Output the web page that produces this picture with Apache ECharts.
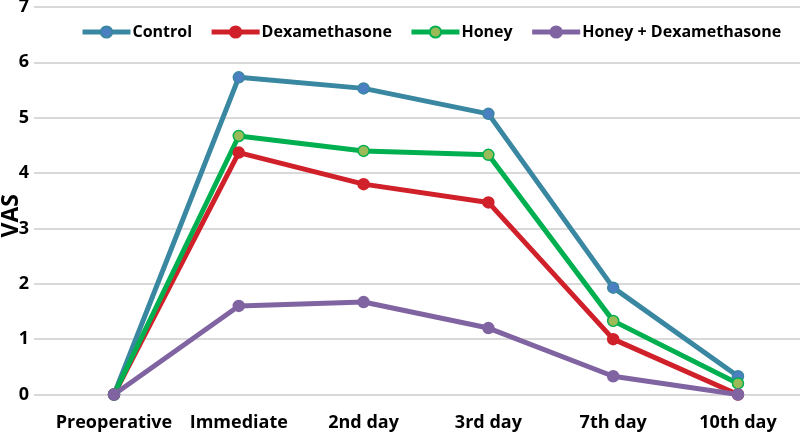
<!DOCTYPE html>
<html><head><meta charset="utf-8">
<script src="https://cdn.jsdelivr.net/npm/echarts@6/dist/echarts.min.js"></script>
<style>html,body{margin:0;padding:0;background:#fff}#c{width:800px;height:434px}</style>
</head><body><div id="c"></div>
<script>
const categories = ['Preoperative','Immediate','2nd day','3rd day','7th day','10th day'];
const control = [0, 5.73, 5.53, 5.07, 1.93, 0.33];
const dexamethasone = [0, 4.37, 3.80, 3.47, 1.00, 0];
const honey = [0, 4.67, 4.40, 4.33, 1.33, 0.20];
const honeyDexa = [0, 1.60, 1.67, 1.20, 0.33, 0];
const yTicks = [0,1,2,3,4,5,6,7];

const FONT = '"Open Sans", "Noto Sans", sans-serif';
function pts(arr){ return arr.map((v,i)=>[i,v]); }
function mk(name, data, lineColor, markColor, borderColor){
  return {
    name, type:'line', data: pts(data), symbol:'circle', symbolSize:11,
    lineStyle:{color:lineColor, width:5},
    itemStyle:{color:markColor, borderColor:borderColor, borderWidth:1.5},
    z: 2
  };
}
const names = ['Control','Dexamethasone','Honey','Honey + Dexamethasone'];
const chart = echarts.init(document.getElementById('c'));
chart.setOption({
  animation:false,
  grid:{left:34, right:0, top:7, bottom:39.5, containLabel:false, outerBoundsMode:'none'},
  legend:{
    top:19, left:75, itemWidth:48, itemHeight:14, itemGap:17,
    lineStyle:{width:5},
    textStyle:{fontFamily:FONT, fontWeight:'bold', fontSize:16, color:'#000', padding:[0,0,0,-3]},
    data:names
  },
  xAxis:{
    type:'value', min:-0.641, max:5.497,
    axisLine:{show:false}, axisTick:{show:false}, splitLine:{show:false},
    axisLabel:{customValues:[0,1,2,3,4,5], formatter:v=>categories[Math.round(v)],
      fontFamily:FONT, fontWeight:'bold', fontSize:18, color:'#000', margin:19}
  },
  yAxis:{
    type:'value', min:0, max:7, interval:1,
    name:'VAS', nameLocation:'middle', nameGap:11, nameRotate:90, nameMoveOverlap:false,
    nameTextStyle:{fontFamily:FONT, fontWeight:'bold', fontSize:23, color:'#000', padding:[0,30,0,0]},
    axisLine:{show:false}, axisTick:{show:false},
    splitLine:{lineStyle:{color:'#d9d9d9', width:2}},
    axisLabel:{formatter:v=>yTicks.includes(v)?String(v):'', fontFamily:FONT, fontWeight:'bold', fontSize:18, color:'#000', margin:5}
  },
  series:[
    mk('Control', control, '#3A87A2', '#4A7FC1', '#3A87A2'),
    mk('Dexamethasone', dexamethasone, '#D0202A', '#D0202A', '#D0202A'),
    mk('Honey', honey, '#00B050', '#9BBB59', '#00B050'),
    mk('Honey + Dexamethasone', honeyDexa, '#8064A2', '#8064A2', '#8064A2')
  ]
});
</script></body></html>
